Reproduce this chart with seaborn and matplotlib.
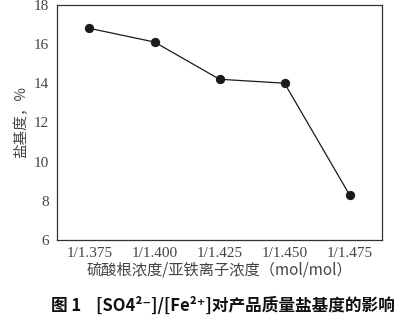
import matplotlib
matplotlib.use("Agg")
import matplotlib.pyplot as plt
import seaborn as sns
import pandas as pd

# Molar ratio of sulfate to ferrous ion, and product basicity (%)
ratios = ["1/1.375", "1/1.400", "1/1.425", "1/1.450", "1/1.475"]
basicity = [16.8, 16.1, 14.2, 14.0, 8.3]
y_ticks = [6, 8, 10, 12, 14, 16, 18]

sns.set_style("white")
plt.rcParams["font.family"] = ["Liberation Serif", "Noto Sans CJK SC", "DejaVu Sans"]

df = pd.DataFrame({"ratio": ratios, "basicity": basicity})

fig = plt.figure(figsize=(4.13, 3.22), dpi=100)
ax = fig.add_axes([0.138, 0.255, 0.787, 0.730])

sns.pointplot(data=df, x="ratio", y="basicity", color="#1a1a1a",
              markers="o", markersize=6, linewidth=0.9, ax=ax)

ax.set_ylim(6, 18)
ax.set_yticks(y_ticks)
ax.set_yticklabels([str(v) for v in y_ticks])
ax.tick_params(axis="both", direction="in", length=5, width=0.8,
               colors="#333333", labelcolor="#444444", labelsize=11)
ax.tick_params(axis="x", pad=5)
ax.tick_params(axis="y", pad=6)
ax.tick_params(top=False, right=False)
for s in ax.spines.values():
    s.set_color("#333333")
    s.set_linewidth(0.9)

cjk = ["Noto Sans CJK SC", "DejaVu Sans"]
ax.set_xlabel("硫酸根浓度/亚铁离子浓度（mol/mol）", fontsize=11,
              color="#444444", labelpad=1, family=cjk)
ax.set_ylabel("盐基度，%", fontsize=10.5, color="#444444",
              labelpad=4, family=cjk)

fig.text(0.54, 0.05, "图 1    [SO4²⁻]/[Fe²⁺]对产品质量盐基度的影响",
         ha="center", va="center", fontsize=12, fontweight="bold",
         color="#111111", family=["Noto Sans CJK SC", "DejaVu Sans"])

fig.savefig("out.png", dpi=100)
